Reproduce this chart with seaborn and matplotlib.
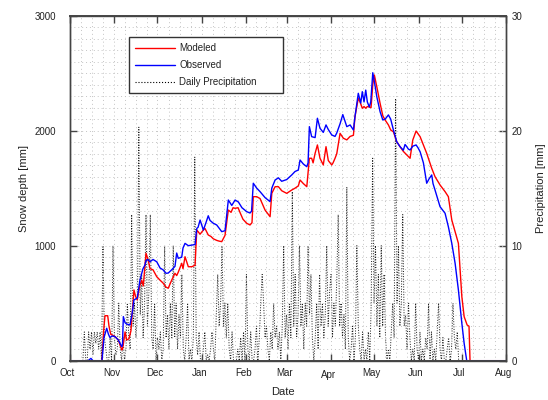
import matplotlib
matplotlib.use("Agg")
import matplotlib.pyplot as plt
import matplotlib.transforms as mtransforms
from matplotlib.lines import Line2D
import numpy as np
import pandas as pd
import seaborn as sns

# ---------------- data ----------------
month_labels = ["Oct", "Nov", "Dec", "Jan", "Feb", "Mar", "Apr", "May", "Jun", "Jul", "Aug"]
month_start_day = [0, 31, 61, 92, 123, 151, 182, 212, 243, 273, 304]

# (day since Oct 1, snow depth mm)
observed = [
    (0, 0), (12.6, 0), (14.6, 20), (16.0, 0), (22.3, 0), (23.7, 200), (25.6, 282), (26.8, 230),
    (27.9, 200), (29.3, 215), (31.4, 209), (33.7, 180), (36.1, 122), (36.6, 140), (37.2, 383),
    (38.4, 330), (39.5, 319), (41.8, 310), (43.2, 400), (44.6, 528), (46.9, 545), (48.8, 702),
    (50.9, 800), (52.3, 832), (53.0, 870), (54.4, 880), (55.8, 860), (57.9, 880), (60.5, 860),
    (62.8, 806), (64.9, 790), (66.9, 760), (68.5, 762), (70.9, 790), (73.2, 820), (74.4, 936),
    (75.5, 890), (77.9, 900), (78.8, 980), (80.2, 1020), (82.5, 1000), (84.9, 1005), (87.2, 1010),
    (88.4, 1150), (89.3, 1160), (90.7, 1223), (93.0, 1136), (94.8, 1200), (96.4, 1260), (97.6, 1220),
    (99.9, 1195), (102.3, 1180), (105.8, 1122), (108.1, 1130), (110.4, 1397), (112.8, 1350),
    (115.1, 1397), (117.4, 1380), (119.9, 1330), (123.2, 1296), (125.5, 1284), (126.6, 1300),
    (127.8, 1543), (130.2, 1500), (132.5, 1470), (136.0, 1418), (139.5, 1383), (140.7, 1500),
    (143.0, 1571), (145.3, 1590), (147.6, 1560), (151.1, 1575), (154.6, 1615), (156.9, 1645),
    (159.2, 1658), (160.4, 1745), (162.7, 1710), (165.1, 1687), (166.0, 1720), (166.9, 2035),
    (168.5, 1948), (170.9, 1940), (172.5, 2108), (174.3, 2021), (176.6, 1985), (178.5, 2050),
    (180.1, 2010), (182.5, 1963), (184.8, 1950), (186.0, 1980), (188.3, 2060), (190.2, 2140),
    (193.0, 2035), (195.3, 2050), (197.6, 2006), (198.7, 2122), (201.0, 2325), (202.7, 2240),
    (203.8, 2339), (205.0, 2250), (206.2, 2353), (207.3, 2250), (208.7, 2206), (209.7, 2250),
    (211.1, 2504), (212.2, 2430), (213.9, 2296), (216.2, 2165), (218.1, 2093), (219.7, 2100),
    (222.0, 2137), (223.6, 2100), (225.5, 2006), (227.8, 1904), (230.1, 1861), (232.4, 1830),
    (233.6, 1880), (234.8, 1861), (235.9, 1840), (237.1, 1832), (239.0, 1865), (241.3, 1876),
    (242.7, 1850), (244.1, 1817), (246.4, 1720), (248.7, 1543), (250.3, 1580), (252.2, 1615),
    (253.1, 1540), (254.5, 1484), (258.0, 1339), (261.5, 1282), (263.8, 1165), (266.2, 1020),
    (268.5, 847), (270.8, 615), (273.2, 325), (274.8, 151), (276.6, 0), (304, 0),
]

modeled = [
    (0, 0), (22.3, 0), (23.4, 250), (24.4, 391), (26.3, 391), (27.2, 300), (28.4, 230), (30.0, 220),
    (31.4, 209), (33.7, 180), (36.1, 93), (36.6, 100), (37.3, 150), (38.4, 250), (39.5, 180),
    (41.1, 190), (42.5, 260), (44.6, 615), (45.7, 560), (46.9, 528), (48.8, 660), (50.0, 700),
    (51.1, 650), (53.0, 934), (54.4, 880), (55.8, 800), (57.9, 790), (60.5, 730), (62.8, 700),
    (64.9, 675), (66.9, 640), (68.5, 630), (70.9, 700), (73.2, 760), (74.4, 740), (75.5, 770),
    (77.9, 847), (78.8, 800), (80.2, 904), (82.5, 817), (84.9, 817), (87.2, 830), (88.4, 1136),
    (90.7, 1100), (93.0, 1136), (94.1, 1150), (96.4, 1093), (98.3, 1080), (99.9, 1060),
    (102.3, 1046), (103.9, 1040), (105.8, 1035), (108.1, 1090), (110.4, 1310), (112.3, 1290),
    (113.7, 1330), (115.1, 1325), (117.2, 1330), (118.5, 1290), (120.6, 1230), (123.2, 1195),
    (125.5, 1180), (126.9, 1200), (127.8, 1426), (130.2, 1426), (132.5, 1410), (136.0, 1310),
    (139.5, 1252), (140.7, 1455), (143.0, 1513), (145.3, 1513), (147.6, 1478), (151.1, 1455),
    (154.6, 1484), (156.9, 1500), (159.2, 1520), (160.4, 1571), (162.7, 1540), (165.1, 1513),
    (166.9, 1760), (168.5, 1760), (169.5, 1720), (170.9, 1803), (172.5, 1876), (174.3, 1760),
    (176.6, 1702), (178.5, 1861), (180.1, 1740), (182.5, 1702), (183.4, 1720), (184.8, 1760),
    (186.0, 1800), (188.3, 1977), (190.6, 1934), (193.0, 1920), (195.3, 1950), (197.6, 1960),
    (198.7, 2122), (201.0, 2282), (202.2, 2250), (203.8, 2195), (205.0, 2210), (206.2, 2195),
    (207.3, 2210), (208.7, 2206), (209.9, 2200), (211.1, 2400), (212.2, 2484), (213.9, 2383),
    (216.2, 2238), (218.1, 2130), (219.7, 2093), (222.0, 2050), (223.6, 2006), (225.5, 1990),
    (227.8, 1904), (230.1, 1861), (232.4, 1820), (234.8, 1789), (237.1, 1760), (239.0, 1919),
    (241.3, 1997), (244.1, 1948), (246.4, 1876), (248.7, 1803), (252.2, 1673), (254.5, 1600),
    (258.0, 1528), (261.5, 1470), (263.8, 1426), (266.2, 1223), (268.5, 1122), (270.8, 1020),
    (273.2, 557), (274.8, 383), (276.9, 310), (278.2, 300), (278.9, 0), (304, 0),
]

# daily precipitation (mm), one list per month
precip_oct = [0, 0, 0, 0, 0, 0, 0, 0, 0, 0, 2.5, 0, 0, 2.5, 1, 2.5, 0.5, 2.5, 1.5, 2.5,
              1, 2.5, 0, 10, 2, 1, 0, 0, 2, 0, 10]
precip_nov = [2, 0.5, 1, 5, 1, 0, 2, 0, 1, 5, 2, 1, 12.7, 3, 5, 2, 4, 20.3, 4, 7.5,
              2, 5, 12.7, 3, 6, 12.7, 2, 1, 5, 0]
precip_dec = [2, 1, 2.5, 0, 1, 10, 2, 4, 1, 5, 2, 10, 2, 5, 1, 4, 2, 7.5, 1, 0,
              2, 5, 0, 1, 0, 2, 17.7, 2, 0.5, 2.5, 0]
precip_jan = [0, 1, 2.5, 0, 0.5, 0, 1, 2.5, 1, 0, 4, 7.5, 3, 5, 10, 3, 5, 2, 5, 1,
              0, 2.5, 0, 0, 0, 1, 0, 2, 0, 2.5, 0]
precip_feb = [7.5, 1, 0, 2.5, 0, 0, 1, 3, 0, 2, 5, 7.5, 5, 2, 3, 1, 0, 2.5, 1, 5,
              2, 3, 1, 2.5, 0, 3, 10, 2]
precip_mar = [4, 1, 5, 2, 14.7, 3, 7.5, 2, 4, 10, 3, 5, 1, 5, 3, 10, 4, 7.5, 2, 0,
              2, 5, 1, 7.5, 3, 5, 2, 4, 10, 3, 6]
precip_apr = [7.5, 2, 5, 3, 7, 12.7, 3, 5, 2, 4, 1, 15.1, 2, 0, 1, 3, 0, 2, 10, 3,
              1, 0, 2.5, 0, 1, 0, 2.5, 0, 5, 17.7]
precip_may = [5, 10, 3, 7.5, 2, 10, 3, 7.5, 2, 0, 1, 0, 2.5, 5, 2, 22.8, 5, 10, 3, 5,
              12.7, 3, 4, 1, 5, 2, 0, 1, 0, 5, 1]
precip_jun = [0, 2.5, 0, 1, 0, 2, 1, 5, 0, 2.5, 0, 1, 0, 2.5, 5, 1, 0, 2, 0, 0,
              1, 2, 0, 1, 5, 2, 1, 2.5, 0, 0]
precip_jul = [0, 0, 0, 0, 0, 0, 0, 0, 0, 0, 0, 0, 0, 0, 0, 0, 0, 0, 0, 0,
              0, 0, 0, 0, 0, 0, 0, 0, 0, 0, 0]

# ---------------- frames ----------------
obs_df = pd.DataFrame(observed, columns=["day", "depth"])
mod_df = pd.DataFrame(modeled, columns=["day", "depth"])
precip_vals = (precip_oct + precip_nov + precip_dec + precip_jan + precip_feb +
               precip_mar + precip_apr + precip_may + precip_jun + precip_jul)
pr_df = pd.DataFrame({"day": np.arange(len(precip_vals)), "precip": precip_vals})

# ---------------- style ----------------
sns.set_theme(style="white")
plt.rcParams["font.family"] = ["Liberation Sans", "DejaVu Sans"]
text_c = "#222222"
spine_c = "#444444"
grid_c = "#c4c4c4"

fig = plt.figure(figsize=(5.48, 4.0), dpi=100)
ax = fig.add_axes([0.1277, 0.0983, 0.7957, 0.8625])
ax2 = ax.twinx()

# precipitation (behind)
sns.lineplot(data=pr_df, x="day", y="precip", ax=ax2, color="#1a1a1a",
             linestyle=":", linewidth=0.7, estimator=None, sort=False)
# snow depth
sns.lineplot(data=mod_df, x="day", y="depth", ax=ax, color="#ff0000",
             linewidth=1.0, estimator=None, sort=False)
sns.lineplot(data=obs_df, x="day", y="depth", ax=ax, color="#0000ff",
             linewidth=1.0, estimator=None, sort=False)

ax.set_zorder(ax2.get_zorder() + 1)
ax.patch.set_visible(False)

# axes limits / ticks
ax.set_xlim(month_start_day[0], month_start_day[-1])
ax.set_ylim(0, 3000)
ax2.set_ylim(0, 30)

ax.set_xticks(month_start_day)
ax.set_xticklabels(month_labels)
minor_x = []
for a, b in zip(month_start_day[:-1], month_start_day[1:]):
    for k in (1, 2, 3):
        minor_x.append(a + (b - a) * k / 4)
ax.set_xticks(minor_x, minor=True)
ax.set_yticks([0, 1000, 2000, 3000])
ax.set_yticks(np.arange(100, 3000, 100), minor=True)
ax2.set_yticks([0, 10, 20, 30])

ax.grid(which="both", color=grid_c, linestyle=(0, (1, 3)), linewidth=0.7)
ax2.grid(False)

ax.tick_params(axis="x", which="major", direction="in", length=5, width=1,
               top=True, bottom=True, labelsize=7, pad=5, colors=spine_c,
               labelcolor=text_c)
ax.tick_params(axis="y", which="major", direction="in", length=5, width=1,
               left=True, right=False, labelsize=7, pad=10, colors=spine_c,
               labelcolor=text_c)
ax.tick_params(which="minor", length=0)
ax2.tick_params(axis="y", which="major", direction="in", length=5, width=1,
                right=True, labelsize=7, pad=4, colors=spine_c, labelcolor=text_c)

# shift month labels slightly left, Apr a bit lower (as in reference)
off = mtransforms.ScaledTranslation(-2.5 / 100, 0, fig.dpi_scale_trans)
for lab in ax.get_xticklabels():
    lab.set_transform(lab.get_transform() + off)
ax.get_xticklabels()[6].set_transform(
    ax.get_xticklabels()[6].get_transform()
    + mtransforms.ScaledTranslation(0, -2.5 / 100, fig.dpi_scale_trans))

for a in (ax, ax2):
    for s in a.spines.values():
        s.set_color(spine_c)
        s.set_linewidth(1.0)
ax.spines["bottom"].set_linewidth(1.4)
ax.spines["top"].set_linewidth(1.4)

ax.set_xlabel("Date", fontsize=8, color=text_c)
ax.set_ylabel("Snow depth [mm]", fontsize=8, color=text_c)
ax2.set_ylabel("Precipitation [mm]", fontsize=8, color=text_c)
ax.xaxis.set_label_coords(0.4885, -0.075)
ax.yaxis.set_label_coords(-0.095, 0.5)
ax2.yaxis.set_label_coords(1.069, 0.5)

# legend
handles = [
    Line2D([], [], color="#ff0000", linewidth=1.0),
    Line2D([], [], color="#0000ff", linewidth=1.0),
    Line2D([], [], color="black", linestyle=":", linewidth=0.8),
]
leg = ax.legend(handles, ["Modeled", "Observed", "Daily Precipitation"],
                loc="upper left", bbox_to_anchor=(0.1346, 0.9374, 0.353, 0.0),
                mode="expand", fontsize=7, frameon=True, fancybox=False,
                framealpha=1, edgecolor="#333333", handlelength=4.2,
                handletextpad=0.4, labelspacing=0.72, borderpad=0.6,
                borderaxespad=0)
leg.get_frame().set_linewidth(1.0)
for t in leg.get_texts():
    t.set_color(text_c)

fig.savefig("out.png", dpi=100)
